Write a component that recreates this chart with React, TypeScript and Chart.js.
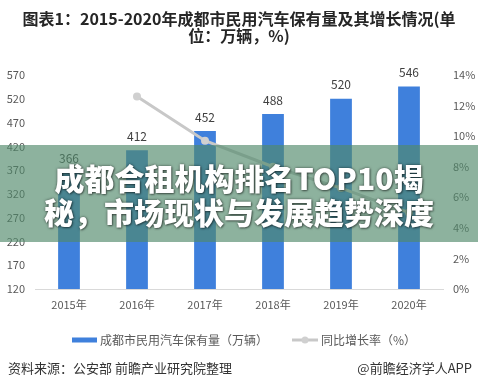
import React, { useEffect, useRef } from "react";
import { Chart, registerables } from "chart.js";

Chart.register(...registerables);

const categories = ["2015年", "2016年", "2017年", "2018年", "2019年", "2020年"];
const ownership = [366, 412, 452, 488, 520, 546];
const growthRate = [null, 12.6, 9.7, 8.0, 6.6, 5.0];
const barLabel = "成都市民用汽车保有量（万辆）";
const lineLabel = "同比增长率（%）";
const titleLines = ["图表1：2015-2020年成都市民用汽车保有量及其增长情况(单", "位：万辆，%)"];
const sourceText = "资料来源：公安部 前瞻产业研究院整理";
const brandText = "@前瞻经济学人APP";
const overlayLines = ["成都合租机构排名TOP10揭", "秘，市场现状与发展趋势深度"];

const FONT = '"Noto Sans CJK SC", "Noto Sans", sans-serif';
const BAR_COLOR = "#3f80dc";
const LINE_COLOR = "#c8c8c8";
const TEXT_COLOR = "#595959";

const decorPlugin = {
  id: "decor",
  afterDatasetsDraw(chart: any) {
    const ctx = chart.ctx;
    const meta = chart.getDatasetMeta(0);
    ctx.save();
    ctx.font = `12px ${FONT}`;
    ctx.fillStyle = "#404040";
    ctx.textAlign = "center";
    ctx.textBaseline = "middle";
    meta.data.forEach((el: any, i: number) => {
      ctx.fillText(String(ownership[i]), el.x, el.y - 14);
    });
    ctx.restore();
  },
  afterDraw(chart: any) {
    const ctx = chart.ctx;
    ctx.save();
    // title
    ctx.fillStyle = "#262626";
    ctx.font = `bold 16px ${FONT}`;
    ctx.textAlign = "center";
    ctx.textBaseline = "middle";
    ctx.fillText(titleLines[0], 239, 19);
    ctx.fillText(titleLines[1], 239, 36);
    // legend
    const ly = 340;
    ctx.fillStyle = BAR_COLOR;
    ctx.fillRect(72, ly - 2.5, 25, 5);
    ctx.font = `12px ${FONT}`;
    ctx.fillStyle = TEXT_COLOR;
    ctx.textAlign = "left";
    ctx.fillText(barLabel, 100, ly);
    ctx.strokeStyle = LINE_COLOR;
    ctx.lineWidth = 3;
    ctx.beginPath();
    ctx.moveTo(292, ly);
    ctx.lineTo(318, ly);
    ctx.stroke();
    ctx.fillStyle = "#d0d0d0";
    ctx.beginPath();
    ctx.arc(305, ly, 3.5, 0, Math.PI * 2);
    ctx.fill();
    ctx.fillStyle = TEXT_COLOR;
    ctx.fillText(lineLabel, 321, ly);
    // footer
    ctx.font = `13px ${FONT}`;
    ctx.fillStyle = "#333333";
    ctx.textAlign = "left";
    ctx.fillText(sourceText, 8, 368);
    ctx.textAlign = "right";
    ctx.fillText(brandText, 472, 368);
    ctx.restore();
  },
};

export default function App() {
  const ref = useRef<HTMLCanvasElement>(null);
  useEffect(() => {
    document.body.style.margin = "0";
    const chart = new Chart(ref.current as HTMLCanvasElement, {
      type: "bar",
      data: {
        labels: categories,
        datasets: [
          {
            type: "bar",
            label: barLabel,
            data: ownership,
            backgroundColor: BAR_COLOR,
            barPercentage: 0.64,
            categoryPercentage: 0.5,
            yAxisID: "y",
            order: 1,
          },
          {
            type: "line",
            label: lineLabel,
            data: growthRate as any,
            borderColor: LINE_COLOR,
            backgroundColor: "#d0d0d0",
            borderWidth: 3,
            pointRadius: 4,
            pointBorderWidth: 0,
            pointBackgroundColor: "#d0d0d0",
            yAxisID: "y1",
            order: 0,
          },
        ],
      } as any,
      options: {
        responsive: false,
        animation: false,
        layout: { padding: { top: 75, bottom: 0, left: 0, right: 0 } },
        plugins: { legend: { display: false }, tooltip: { enabled: false }, title: { display: false } },
        scales: {
          x: {
            grid: { display: false, drawTicks: false },
            border: { display: true, color: "#d9d9d9", width: 1 },
            ticks: { color: TEXT_COLOR, font: { size: 11, family: FONT }, padding: 9 },
            afterFit: (s: any) => {
              s.height = 100;
            },
          },
          y: {
            position: "left",
            min: 120,
            max: 570,
            grid: { display: false, drawTicks: false },
            border: { display: false },
            ticks: { stepSize: 50, color: TEXT_COLOR, font: { size: 11, family: FONT }, padding: 10 },
            afterFit: (s: any) => {
              s.width = 35;
            },
          },
          y1: {
            position: "right",
            min: 0,
            max: 14,
            grid: { display: false, drawTicks: false },
            border: { display: false },
            ticks: {
              stepSize: 2,
              color: TEXT_COLOR,
              font: { size: 11, family: FONT },
              padding: 10,
              callback: (v: any) => v + "%",
            },
            afterFit: (s: any) => {
              s.width = 35;
            },
          },
        },
      } as any,
      plugins: [decorPlugin],
    });
    return () => chart.destroy();
  }, []);

  return (
    <div style={{ position: "relative", width: 478, height: 389, background: "#fff" }}>
      <canvas ref={ref} width={478} height={389} style={{ display: "block", width: 478, height: 389 }} />
      <div
        style={{
          position: "absolute",
          left: 0,
          top: 145,
          width: 478,
          height: 97,
          background: "rgba(80,137,106,0.65)",
        }}
      />
      <div
        style={{
          position: "absolute",
          left: 0,
          top: 145,
          width: 478,
          height: 97,
          display: "flex",
          flexDirection: "column",
          alignItems: "center",
          justifyContent: "center",
          color: "#fff",
          fontFamily: FONT,
          fontWeight: 900,
          fontSize: 30,
          lineHeight: "34px",
          textShadow: "0 0 3px rgba(0,0,0,0.55), 1px 1px 2px rgba(0,0,0,0.4)",
          whiteSpace: "nowrap",
        }}
      >
        <div>{overlayLines[0]}</div>
        <div>{overlayLines[1]}</div>
      </div>
    </div>
  );
}
